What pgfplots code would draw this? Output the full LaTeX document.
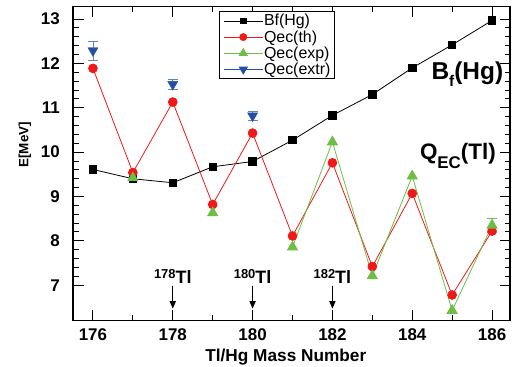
\documentclass[border=0pt]{standalone}
\usepackage{pgfplots}
\pgfplotsset{compat=1.18}
\usepackage{fontspec}
\setmainfont{Liberation Sans}
\usetikzlibrary{arrows.meta}
\definecolor{thred}{RGB}{240,25,25}
\definecolor{expgreen}{RGB}{110,190,70}
\definecolor{extrblue}{RGB}{35,80,165}
\tikzset{
  tag/.style={anchor=base, font=\bfseries\fontsize{18}{18}\selectfont, inner sep=0pt},
  down arrow/.style={-{Triangle[length=7.5bp,width=6bp]}, line width=1.3bp},
}

\begin{document}
\begin{tikzpicture}
\useasboundingbox (0,0) rectangle (513bp,367bp);
\begin{axis}[
  at={(73bp,46.3bp)}, anchor=south west,
  scale only axis, width=437bp, height=314bp,
  xmin=175.5, xmax=186.45, ymin=6.2, ymax=13.28,
  xtick={176,178,...,186}, minor xtick={177,179,...,185},
  ytick={7,...,13}, minor y tick num=4,
  tick align=inside,
  major tick length=10.5bp, minor tick length=5.5bp,
  every tick/.style={black, line width=1bp},
  axis line style={line width=1.2bp},
  /pgf/number format/assume math mode=true,
  ticklabel style={font=\bfseries\fontsize{17}{17}\selectfont},
  xticklabel style={inner sep=0pt, yshift=-7.5bp},
  yticklabel style={inner sep=0pt, xshift=-13bp},
  xlabel={Tl/Hg Mass Number},
  xlabel style={font=\bfseries\fontsize{17.3}{17.3}\selectfont, at={(axis description cs:0.487,-0.1156)}, anchor=center},
  ylabel={E[MeV]},
  ylabel style={font=\bfseries\fontsize{13.5}{13.5}\selectfont, at={(axis description cs:-0.110,0.56)}, anchor=center},
  unbounded coords=jump,
  legend cell align=left,
  legend style={at={(rel axis cs:0.335,0.986)}, anchor=north west,
    draw=black, line width=1bp, font=\fontsize{16}{16}\selectfont,
    inner xsep=3.5bp, inner ysep=2bp, row sep=1.5bp,
    nodes={inner sep=0.8bp}},
  legend image code/.code={\draw[mark repeat=2,mark phase=2,every mark/.append style={scale=0.8},#1]
    plot coordinates {(0bp,0bp) (19.5bp,0bp) (39bp,0bp)};},
]
% Binding energy of Hg
\addplot[black, line width=0.8bp, mark=square*, mark size=3.7bp, mark options={fill=black, solid}]
  coordinates {(176,9.61) (177,9.40) (178,9.31) (179,9.67) (180,9.79) (181,10.27)
               (182,10.83) (183,11.30) (184,11.90) (185,12.42) (186,12.97)};
\addlegendentry{Bf(Hg)}
% Theoretical EC Q-values of Tl
\addplot[thred, line width=0.8bp, mark=*, mark size=4.4bp, mark options={fill=thred}]
  coordinates {(176,11.89) (177,9.54) (178,11.13) (179,8.82) (180,10.43) (181,8.11)
               (182,9.76) (183,7.42) (184,9.07) (185,6.78) (186,8.22)};
\addlegendentry{Qec(th)}
% Experimental EC Q-values
\addplot[expgreen, line width=0.8bp, mark=triangle*, mark size=5.8bp, mark options={fill=expgreen},
  error bars/.cd, y dir=both, y explicit, error bar style={line width=0.8bp},
  error mark options={rotate=90, mark size=5bp, line width=0.8bp}]
  coordinates {(177,9.42) (178,nan) (179,8.63) (180,nan) (181,7.86) (182,10.23)
               (183,7.21) (184,9.46) (185,6.43) (186,8.35) +- (0,0.15)};
\addlegendentry{Qec(exp)}
\addlegendimage{extrblue, line width=0.8bp, mark=triangle*, mark size=5.8bp, mark options={fill=extrblue, rotate=180}}
\addlegendentry{Qec(extr)}
% Extrapolated EC Q-values
\addplot[extrblue, only marks, mark=triangle*, mark size=5.8bp, mark options={fill=extrblue, rotate=180},
  forget plot,
  error bars/.cd, y dir=both, y explicit, error bar style={line width=0.8bp, extrblue!70},
  error mark options={rotate=90, mark size=5bp, line width=0.8bp, extrblue!70}]
  coordinates {(176,12.29) +- (0,0.21) (178,11.53) +- (0,0.12) (180,10.82) +- (0,0.10)};

\node[anchor=base west, font=\bfseries\fontsize{24.5}{24.5}\selectfont, inner sep=0pt]
  at (axis cs:184.48,11.64) {B\raisebox{-7.4bp}{\fontsize{15.5}{15.5}\selectfont f}(Hg)};
\node[anchor=base west, font=\bfseries\fontsize{22.5}{22.5}\selectfont, inner sep=0pt]
  at (axis cs:184.19,9.83) {Q\raisebox{-9bp}{\fontsize{17}{17}\selectfont EC}(Tl)};

\node[tag] at (axis cs:178,7.05) {\raisebox{5bp}{\fontsize{13}{13}\selectfont 178}Tl};
\draw[down arrow] (axis cs:178,6.99) -- (axis cs:178,6.47);
\node[tag] at (axis cs:180,7.05) {\raisebox{5bp}{\fontsize{13}{13}\selectfont 180}Tl};
\draw[down arrow] (axis cs:180,6.99) -- (axis cs:180,6.47);
\node[tag] at (axis cs:182,7.05) {\raisebox{5bp}{\fontsize{13}{13}\selectfont 182}Tl};
\draw[down arrow] (axis cs:182,6.99) -- (axis cs:182,6.47);
\end{axis}
\end{tikzpicture}
\end{document}
